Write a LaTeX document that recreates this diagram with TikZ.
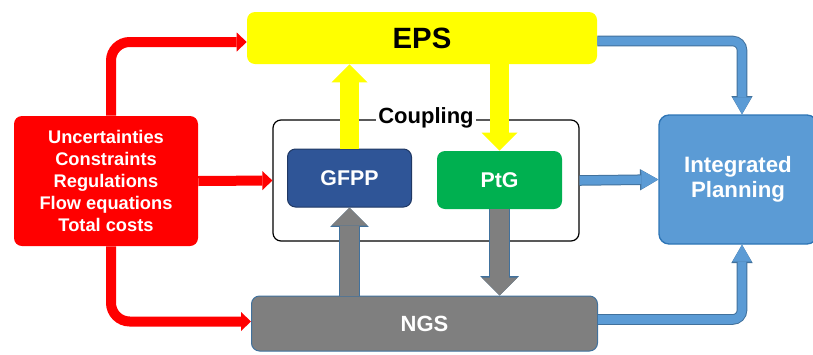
\documentclass[tikz,border=0pt]{standalone}
\usepackage{fontspec}
\setmainfont{Liberation Sans}
\usetikzlibrary{arrows.meta, calc}

\definecolor{epsyellow}{HTML}{FFFF00}
\definecolor{inred}{HTML}{FF0000}
\definecolor{gfppblue}{HTML}{2F5597}
\definecolor{gfppedge}{HTML}{203864}
\definecolor{ptggreen}{HTML}{00B050}
\definecolor{ipblue}{HTML}{5B9BD5}
\definecolor{ipedge}{HTML}{2E75B6}
\definecolor{ngsgray}{HTML}{7F7F7F}
\definecolor{edgeblue}{HTML}{41719C}

\begin{document}
\begin{tikzpicture}[
    x=0.75pt, y=-0.75pt, % pixel grid, y pointing down
    box/.style={rectangle, rounded corners=6pt, inner sep=2pt, align=center, text=white},
    redarrow/.style={draw=inred, line width=7.5pt, rounded corners=14pt,
        -{Triangle[width=14.25pt, length=7.5pt, line width=0pt]}},
    yellowarrow/.style={draw=epsyellow, line width=14.25pt,
        -{Triangle[width=27pt, length=13.5pt, line width=0pt]}},
    grayarrow/.style={draw=ngsgray, line width=14.25pt,
        -{Triangle[width=27pt, length=13.5pt, line width=0pt]},
        preaction={draw=edgeblue, line width=15.75pt, -{Triangle[width=29pt, length=14.5pt, line width=0pt]}}},
    bluearrow/.style={draw=ipblue, line width=6.4pt, rounded corners=7pt,
        -{Triangle[width=14.25pt, length=12.75pt, line width=0pt]},
        preaction={draw=edgeblue, line width=7.9pt, -{Triangle[width=16pt, length=13.75pt, line width=0pt]}}}
]
\useasboundingbox (0,0) rectangle (813,354);

% Systems
\node[box, fill=epsyellow, text=black, minimum width=262.5pt, minimum height=39pt,
    font=\fontsize{22}{26}\selectfont\bfseries] (eps) at (422,38) {EPS};
\node[box, fill=ngsgray, draw=edgeblue, line width=0.75pt, minimum width=259.5pt, minimum height=41.25pt,
    font=\fontsize{16.5}{20}\selectfont\bfseries] (ngs) at (424.5,323.5) {NGS};

% Inputs
\node[box, fill=inred, minimum width=138pt, minimum height=97.5pt,
    font=\fontsize{13.7}{16.5}\selectfont\bfseries] (inputs) at (106,181)
    {Uncertainties\\Constraints\\Regulations\\Flow equations\\Total costs};

% Coupling
\node[draw=black, line width=0.9pt, rounded corners=6pt, minimum width=229.5pt, minimum height=90.75pt] (coupling) at (426,180.5) {};
\node[fill=white, inner sep=1.5pt, font=\fontsize{16.5}{20}\selectfont\bfseries] (couplinglabel)
    at ($(coupling.north)+(0,-2)$) {Coupling};
\node[box, fill=gfppblue, draw=gfppedge, line width=0.75pt, minimum width=93pt, minimum height=43.5pt,
    font=\fontsize{16}{19}\selectfont\bfseries] (gfpp) at (349.5,178) {GFPP};
\node[box, fill=ptggreen, minimum width=93.75pt, minimum height=43.5pt,
    font=\fontsize{16}{19}\selectfont\bfseries] (ptg) at (499.5,180) {PtG};

% Result
\node[box, fill=ipblue, draw=ipedge, line width=1pt, rounded corners=7.5pt, minimum width=118.5pt, minimum height=96.75pt,
    font=\fontsize{16.7}{18.75}\selectfont\bfseries] (ip) at (738,179.5) {Integrated\\Planning};

% Inputs to the systems
\draw[redarrow] ([xshift=3.75pt]inputs.north) |- ([yshift=-3pt]eps.west);
\draw[redarrow] (inputs.east) -- (coupling.west);
\draw[redarrow] ([xshift=3.75pt]inputs.south) |- ([yshift=1.5pt]ngs.west);

% Exchange through the coupling
\draw[yellowarrow] (gfpp.north) -- (gfpp.north |- eps.south);
\draw[yellowarrow] (eps.south -| ptg.north) -- (ptg.north);
\draw[grayarrow] (ngs.north -| gfpp.south) -- (gfpp.south);
\draw[grayarrow] (ptg.south) -- (ptg.south |- ngs.north);

% Into the planning
\draw[bluearrow] ([yshift=-2.25pt]eps.east) -| ([xshift=3pt]ip.north);
\draw[bluearrow] (coupling.east) -- (ip.west);
\draw[bluearrow] ([yshift=3pt]ngs.east) -| ([xshift=3pt]ip.south);

\end{tikzpicture}
\end{document}
